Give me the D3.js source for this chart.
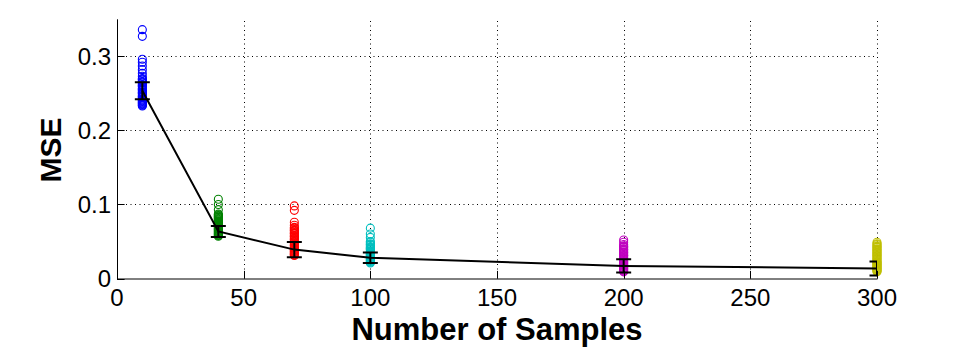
<!DOCTYPE html>
<html>
<head>
<meta charset="utf-8">
<script src="https://cdn.jsdelivr.net/npm/d3@7"></script>
<style>
  body { margin: 0; background: #fff; }
  text { font-family: "Liberation Sans", Arial, sans-serif; }
</style>
</head>
<body>
<div id="chart"></div>
<script>
const SAMPLES = [10, 40, 70, 100, 200, 300];
const COLORS = ["#0000ff", "#008000", "#ff0000", "#00bfbf", "#bf00bf", "#bfbf00"];

// per-run MSE values for every sample size
const RUNS_10 = [0.336, 0.327, 0.296, 0.292, 0.287, 0.282, 0.277, 0.273,
    0.270, 0.269, 0.268, 0.266, 0.265, 0.264, 0.262, 0.261, 0.260, 0.259, 0.257, 0.256,
    0.255, 0.254, 0.252, 0.251, 0.250, 0.249, 0.247, 0.246, 0.245, 0.244, 0.242, 0.241,
    0.240, 0.239, 0.238, 0.237, 0.236, 0.235, 0.234, 0.233];
const RUNS_40 = [0.107, 0.100, 0.093,
    0.087, 0.086, 0.085, 0.084, 0.083, 0.082, 0.081, 0.080, 0.079, 0.078, 0.077, 0.076,
    0.075, 0.074, 0.073, 0.072, 0.071, 0.070, 0.069, 0.068, 0.067, 0.066, 0.065, 0.064,
    0.063, 0.062, 0.061, 0.060, 0.059, 0.058, 0.057];
const RUNS_70 = [0.098, 0.092, 0.076, 0.072,
    0.069, 0.068, 0.066, 0.065, 0.064, 0.062, 0.061, 0.060, 0.058, 0.057, 0.056, 0.054,
    0.053, 0.052, 0.050, 0.049, 0.048, 0.046, 0.045, 0.044, 0.042, 0.041, 0.040, 0.039,
    0.038, 0.037, 0.036, 0.035, 0.034, 0.033, 0.032, 0.031];
const RUNS_100 = [0.068, 0.060, 0.0555,
    0.050, 0.049, 0.047, 0.046, 0.045, 0.043, 0.042, 0.041, 0.040, 0.039, 0.037, 0.036,
    0.035, 0.034, 0.033, 0.032, 0.031, 0.030, 0.029, 0.028, 0.027, 0.026, 0.025, 0.024,
    0.023, 0.022, 0.021];
const RUNS_200 = [0.052, 0.049, 0.046, 0.044, 0.043, 0.042, 0.040, 0.039, 0.038, 0.036,
    0.035, 0.034, 0.032, 0.031, 0.030, 0.028, 0.027, 0.026, 0.024, 0.023, 0.022, 0.021,
    0.020, 0.019, 0.018, 0.017, 0.016, 0.015, 0.014, 0.013, 0.012, 0.011, 0.010, 0.009];
const RUNS_300 = [0.049, 0.047, 0.046, 0.044, 0.043, 0.042, 0.040, 0.039, 0.038, 0.036,
    0.035, 0.034, 0.032, 0.031, 0.030, 0.028, 0.027, 0.026, 0.024, 0.023, 0.022, 0.021,
    0.020, 0.019, 0.018, 0.017, 0.016, 0.015, 0.014, 0.013, 0.012, 0.011, 0.010, 0.009];

const MEANS = [0.2535, 0.0635, 0.039, 0.028, 0.017, 0.0135];
const ERRS = [0.0115, 0.0075, 0.0103, 0.007, 0.009, 0.0095];

const X_TICKS = [0, 50, 100, 150, 200, 250, 300];
const Y_TICKS = [0, 0.1, 0.2, 0.3];

const runs = [RUNS_10, RUNS_40, RUNS_70, RUNS_100, RUNS_200, RUNS_300];

const width = 955, height = 360;
const plot = { left: 117, right: 877, top: 19.3, bottom: 278.5 };

const svg = d3.select("#chart")
    .append("svg")
    .attr("width", width)
    .attr("height", height)
    .style("background", "#fff");

const x = d3.scaleLinear().domain([0, 300]).range([plot.left, plot.right]);
const y = d3.scaleLinear().domain([0, 0.35]).range([plot.bottom, plot.top]);

svg.append("defs").append("clipPath")
    .attr("id", "plot-clip")
    .append("rect")
    .attr("x", plot.left).attr("y", plot.top)
    .attr("width", plot.right - plot.left).attr("height", plot.bottom - plot.top);

// dotted grid
const grid = svg.append("g").attr("stroke", "#000").attr("stroke-width", 1)
    .attr("stroke-dasharray", "1,3.5");
grid.selectAll(".gx")
    .data(X_TICKS.filter(d => d > 0))
    .enter().append("line")
    .attr("x1", d => Math.round(x(d)) + 0.5).attr("x2", d => Math.round(x(d)) + 0.5)
    .attr("y1", plot.bottom).attr("y2", plot.top);
grid.selectAll(".gy")
    .data(Y_TICKS.filter(d => d > 0))
    .enter().append("line")
    .attr("y1", d => Math.round(y(d)) + 0.5).attr("y2", d => Math.round(y(d)) + 0.5)
    .attr("x1", plot.left).attr("x2", plot.right);

// scatter of individual runs
SAMPLES.forEach((s, i) => {
    svg.append("g")
        .selectAll("circle")
        .data(runs[i])
        .enter().append("circle")
        .attr("cx", x(s))
        .attr("cy", d => y(d))
        .attr("r", 4)
        .attr("fill", "none")
        .attr("stroke", COLORS[i])
        .attr("stroke-width", 1.1);
});

// mean line with error bars
const meanData = SAMPLES.map((s, i) => ({ s, m: MEANS[i], e: ERRS[i] }));
const eb = svg.append("g").attr("clip-path", "url(#plot-clip)")
    .attr("stroke", "#000").attr("stroke-width", 2).attr("fill", "none");

eb.append("path")
    .attr("d", d3.line().x(d => x(d.s)).y(d => y(d.m))(meanData));

const capW = 7.5;
meanData.forEach(d => {
    const cx = x(d.s);
    eb.append("line").attr("x1", cx).attr("x2", cx)
        .attr("y1", y(d.m - d.e)).attr("y2", y(d.m + d.e));
    [d.m - d.e, d.m + d.e].forEach(v => {
        eb.append("line").attr("x1", cx - capW).attr("x2", cx + capW)
            .attr("y1", y(v)).attr("y2", y(v));
    });
});

// axes
const axes = svg.append("g").attr("stroke", "#000").attr("stroke-width", 1);
axes.append("line").attr("x1", plot.left + 0.5).attr("x2", plot.left + 0.5)
    .attr("y1", plot.top).attr("y2", plot.bottom + 0.5);
axes.append("line").attr("x1", plot.left).attr("x2", plot.right + 0.5)
    .attr("y1", plot.bottom + 0.5).attr("y2", plot.bottom + 0.5);

const tickLen = 7.6;
axes.selectAll(".tx")
    .data(X_TICKS)
    .enter().append("line")
    .attr("x1", d => Math.round(x(d)) + 0.5).attr("x2", d => Math.round(x(d)) + 0.5)
    .attr("y1", plot.bottom).attr("y2", plot.bottom - tickLen);
axes.selectAll(".ty")
    .data(Y_TICKS)
    .enter().append("line")
    .attr("y1", d => Math.round(y(d)) + 0.5).attr("y2", d => Math.round(y(d)) + 0.5)
    .attr("x1", plot.left).attr("x2", plot.left + tickLen);

svg.append("g").selectAll("text")
    .data(X_TICKS)
    .enter().append("text")
    .attr("x", d => x(d))
    .attr("y", 306)
    .attr("text-anchor", "middle")
    .style("font-size", "24px")
    .text(d => d);

svg.append("g").selectAll("text")
    .data(Y_TICKS)
    .enter().append("text")
    .attr("x", 111)
    .attr("y", d => y(d) + 8.5)
    .attr("text-anchor", "end")
    .style("font-size", "24px")
    .text(d => d3.format("")(d));

svg.append("text")
    .attr("x", 497)
    .attr("y", 340)
    .attr("text-anchor", "middle")
    .style("font-size", "31px")
    .style("font-weight", "bold")
    .text("Number of Samples");

svg.append("text")
    .attr("transform", "translate(61,150) rotate(-90)")
    .attr("text-anchor", "middle")
    .style("font-size", "30px")
    .style("font-weight", "bold")
    .text("MSE");
</script>
</body>
</html>
